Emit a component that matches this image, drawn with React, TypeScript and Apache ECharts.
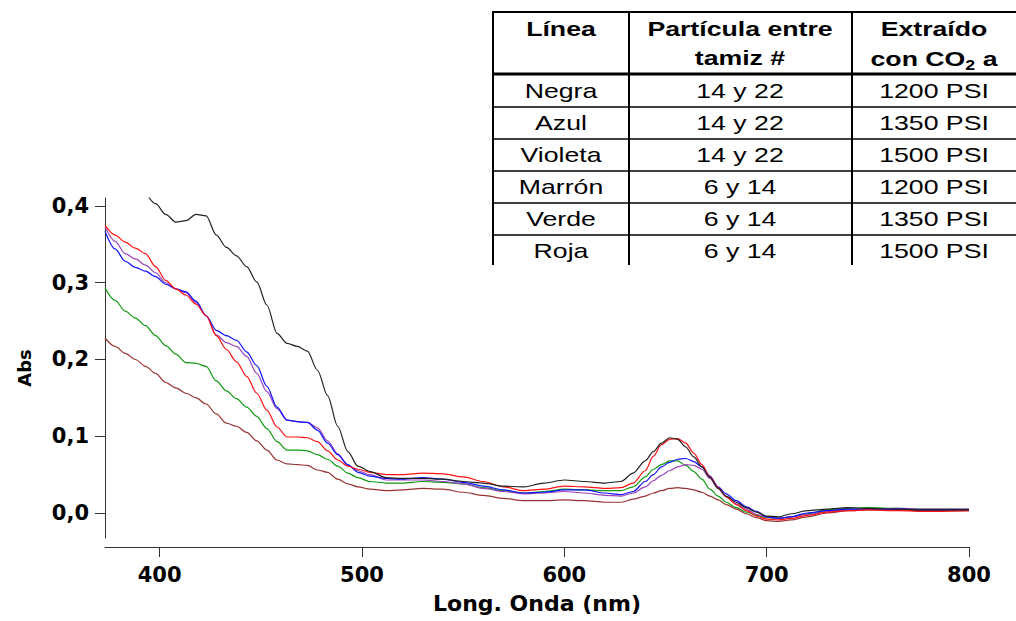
import React, { useEffect, useRef } from 'react';
import * as echarts from 'echarts';

// Wavelength grid (nm)
const wavelengths = [373,378,383,388,393,398,403,408,413,418,423,428,433,438,443,448,453,458,463,468,473,478,483,488,493,498,504,512,520,530,540,550,560,570,580,590,600,610,620,628,634,640,644,648,652,656,660,664,668,672,676,680,685,690,695,700,706,712,720,730,740,750,765,780,800];

const negra = [null,null,null,null,0.418,0.403,0.389,0.379,0.381,0.389,0.387,0.362,0.346,0.335,0.321,0.301,0.271,0.234,0.221,0.217,0.211,0.186,0.153,0.113,0.080,0.061,
  0.054,0.046,0.045,
  0.045,0.044,0.041,0.039,0.035,0.034,0.039,0.043,0.041,0.039,
  0.041,0.052,0.068,
  0.080,0.091,0.098,0.096,0.086,0.073,0.060,0.046,0.032,0.022,
  0.014,0.007,0.001,-0.004,
  -0.005,-0.001,0.003,0.005,0.007,0.006,0.005,0.004,0.004];

const azul = [0.367,0.344,0.328,0.320,0.315,0.308,0.298,0.292,0.288,0.276,0.257,0.238,0.231,0.225,0.210,0.192,0.165,0.138,0.121,0.119,0.118,0.108,0.091,0.076,0.063,0.053,
  0.048,0.045,0.044,
  0.046,0.044,0.040,0.035,0.030,0.026,0.027,0.030,0.030,0.026,
  0.024,0.028,0.041,
  0.050,0.060,0.066,0.070,0.071,0.067,0.060,0.048,0.034,0.025,
  0.016,0.008,0.002,-0.005,
  -0.007,-0.005,0.000,0.003,0.005,0.005,0.005,0.004,0.004];

const violeta = [0.373,0.354,0.338,0.331,0.323,0.313,0.300,0.292,0.287,0.274,0.257,0.232,0.222,0.217,0.204,0.182,0.158,0.136,0.121,0.119,0.118,0.111,0.094,0.077,0.062,0.055,
  0.050,0.043,0.043,
  0.043,0.041,0.038,0.032,0.028,0.025,0.026,0.028,0.026,0.023,
  0.022,0.026,0.034,
  0.042,0.049,0.055,0.060,0.063,0.062,0.057,0.045,0.032,0.021,
  0.012,0.005,-0.002,-0.005,
  -0.007,-0.005,-0.002,0.002,0.004,0.005,0.006,0.005,0.005];

const roja = [0.375,0.362,0.353,0.345,0.338,0.321,0.303,0.292,0.284,0.272,0.257,0.231,0.213,0.197,0.178,0.156,0.134,0.112,0.099,0.099,0.098,0.093,0.081,0.069,0.061,0.057,
  0.053,0.050,0.050,
  0.052,0.051,0.047,0.041,0.034,0.029,0.031,0.035,0.034,0.032,
  0.033,0.039,0.055,
  0.074,0.089,0.096,0.097,0.091,0.078,0.063,0.047,0.033,0.021,
  0.011,0.003,-0.004,-0.008,
  -0.009,-0.007,-0.003,0.001,0.003,0.004,0.003,0.002,0.003];

const verde = [0.293,0.277,0.263,0.254,0.244,0.231,0.218,0.207,0.196,0.195,0.191,0.172,0.159,0.149,0.138,0.126,0.110,0.093,0.082,0.082,0.081,0.076,0.070,0.061,0.052,0.046,
  0.041,0.039,0.039,
  0.041,0.040,0.038,0.033,0.029,0.026,0.028,0.031,0.030,0.029,
  0.029,0.034,0.047,
  0.057,0.063,0.068,0.068,0.062,0.054,0.044,0.031,0.022,0.014,
  0.007,0.001,-0.003,-0.006,
  -0.007,-0.005,-0.001,0.004,0.006,0.007,0.006,0.005,0.005];

const marron = [0.228,0.217,0.208,0.200,0.191,0.182,0.170,0.163,0.156,0.150,0.142,0.129,0.117,0.113,0.105,0.094,0.082,0.069,0.064,0.063,0.062,0.056,0.053,0.044,0.038,0.034,
  0.031,0.029,0.030,
  0.032,0.031,0.027,0.023,0.019,0.016,0.016,0.017,0.016,0.014,
  0.014,0.018,0.022,
  0.026,0.029,0.032,0.033,0.032,0.030,0.027,0.022,0.017,0.011,
  0.005,-0.001,-0.006,-0.010,
  -0.011,-0.009,-0.005,0.000,0.003,0.004,0.004,0.003,0.003];

const xTicks = [400, 500, 600, 700, 800];
const yTicks = [0, 0.1, 0.2, 0.3, 0.4];

// Table content
const headerLinea = 'Línea';
const headerParticula = ['Partícula entre', 'tamiz #'];
const headerExtraido = 'Extraído';
const lineas = ['Negra', 'Azul', 'Violeta', 'Marrón', 'Verde', 'Roja'];
const tamices = ['14 y 22', '14 y 22', '14 y 22', '6 y 14', '6 y 14', '6 y 14'];
const presiones = ['1200 PSI', '1350 PSI', '1500 PSI', '1200 PSI', '1350 PSI', '1500 PSI'];

const seriesDefs = [
  { name: 'Marrón', data: marron, color: '#993333' },
  { name: 'Verde', data: verde, color: '#119911' },
  { name: 'Violeta', data: violeta, color: '#9944BB' },
  { name: 'Azul', data: azul, color: '#1111FF' },
  { name: 'Roja', data: roja, color: '#FF1111' },
  { name: 'Negra', data: negra, color: '#222222' },
];

const AXFONT = '"DejaVu Sans", Verdana, sans-serif';
const TFONT = '"Liberation Sans", Arial, sans-serif';
const SX = 1.27;

function buildTable() {
  const els: any[] = [];
  const left = 493, top = 12, bottom = 265, right = 1020;
  const colLines = [629, 852];
  const colX = [561, 740, 934];
  const rowY = [91, 123, 155, 187, 219, 251];
  const headLine = 74;
  const rowLines = [107, 139, 171, 203, 235];
  const ln = (x1: number, y1: number, x2: number, y2: number, w: number) => ({
    type: 'line', shape: { x1, y1, x2, y2 }, style: { stroke: '#000', lineWidth: w }, z: 10,
  });
  els.push(ln(left - 1, top, right, top, 2));
  els.push(ln(left, top, left, bottom, 2));
  colLines.forEach((x) => els.push(ln(x, top, x, bottom, 2)));
  els.push(ln(left - 1, headLine, right, headLine, 3));
  rowLines.forEach((y) => els.push(ln(left, y, right, y, 1.5)));
  const txt = (text: string, x: number, y: number, bold: boolean) => ({
    type: 'text', x, y, scaleX: SX, z: 11,
    style: {
      text, fontSize: 21, fontWeight: bold ? 'bold' : 'normal', fontFamily: TFONT, fill: '#000',
      align: 'center', verticalAlign: 'middle',
    },
  });
  els.push(txt(headerLinea, colX[0], 29, true));
  els.push(txt(headerParticula[0], colX[1], 29, true));
  els.push(txt(headerParticula[1], colX[1], 58, true));
  els.push(txt(headerExtraido, colX[2], 29, true));
  els.push({
    type: 'text', x: colX[2], y: 58, scaleX: SX, z: 11,
    style: {
      text: '{b|con CO}{s|2}{b| a}',
      align: 'center', verticalAlign: 'middle', fill: '#000',
      rich: {
        b: { fontSize: 21, fontWeight: 'bold', fontFamily: TFONT, fill: '#000', lineHeight: 22, verticalAlign: 'bottom' },
        s: { fontSize: 14, fontWeight: 'bold', fontFamily: TFONT, fill: '#000', lineHeight: 14, verticalAlign: 'bottom', padding: [0, 0, -3, 0] },
      },
    },
  });
  lineas.forEach((l, i) => {
    els.push(txt(l, colX[0], rowY[i], false));
    els.push(txt(tamices[i], colX[1], rowY[i], false));
    els.push(txt(presiones[i], colX[2], rowY[i], false));
  });
  return els;
}

export default function App() {
  const ref = useRef<HTMLDivElement>(null);
  useEffect(() => {
    const chart = echarts.init(ref.current!, null, { renderer: 'svg' });
    const option: any = {
      animation: false,
      backgroundColor: '#ffffff',
      grid: { left: 105, right: 47, top: 198, bottom: 83, containLabel: false },
      xAxis: {
        type: 'value',
        min: 373,
        max: 800,
        offset: 9,
        name: 'Long. Onda (nm)',
        nameLocation: 'middle',
        nameGap: 45,
        nameTextStyle: { fontFamily: AXFONT, fontWeight: 'bold', fontSize: 22, color: '#000' },
        axisLine: { onZero: false, lineStyle: { color: '#333', width: 1 } },
        axisTick: { show: true, length: 10, inside: false, customValues: xTicks, lineStyle: { color: '#333' } },
        axisLabel: {
          customValues: xTicks, margin: 17, color: '#000', fontFamily: AXFONT, fontWeight: 'bold', fontSize: 21,
          formatter: (v: number) => String(v),
        },
        splitLine: { show: false },
      },
      yAxis: {
        type: 'value',
        min: -0.0326,
        max: 0.4104,
        name: 'Abs',
        nameLocation: 'middle',
        nameGap: 72,
        nameRotate: 90,
        nameTextStyle: { fontFamily: AXFONT, fontWeight: 'bold', fontSize: 18, color: '#000' },
        axisLine: { show: true, onZero: false, lineStyle: { color: '#333', width: 1 } },
        axisTick: { show: true, length: 10, inside: false, customValues: yTicks, lineStyle: { color: '#333' } },
        axisLabel: {
          customValues: yTicks, margin: 16, color: '#000', fontFamily: AXFONT, fontWeight: 'bold', fontSize: 21,
          formatter: (v: number) => v.toFixed(1).replace('.', ','),
        },
        splitLine: { show: false },
      },
      series: seriesDefs.map((s) => ({
        name: s.name,
        type: 'line',
        data: wavelengths.map((w, i) => [w, s.data[i]]),
        showSymbol: false,
        symbol: 'none',
        clip: true,
        smooth: 0.3,
        smoothMonotone: 'x',
        connectNulls: false,
        lineStyle: { color: s.color, width: 1.2 },
        itemStyle: { color: s.color },
      })),
      graphic: buildTable(),
    };
    chart.setOption(option);
    return () => chart.dispose();
  }, []);
  return (
    <div
      ref={ref}
      style={{ position: 'fixed', left: 0, top: 0, width: 1016, height: 621, background: '#fff' }}
    />
  );
}
